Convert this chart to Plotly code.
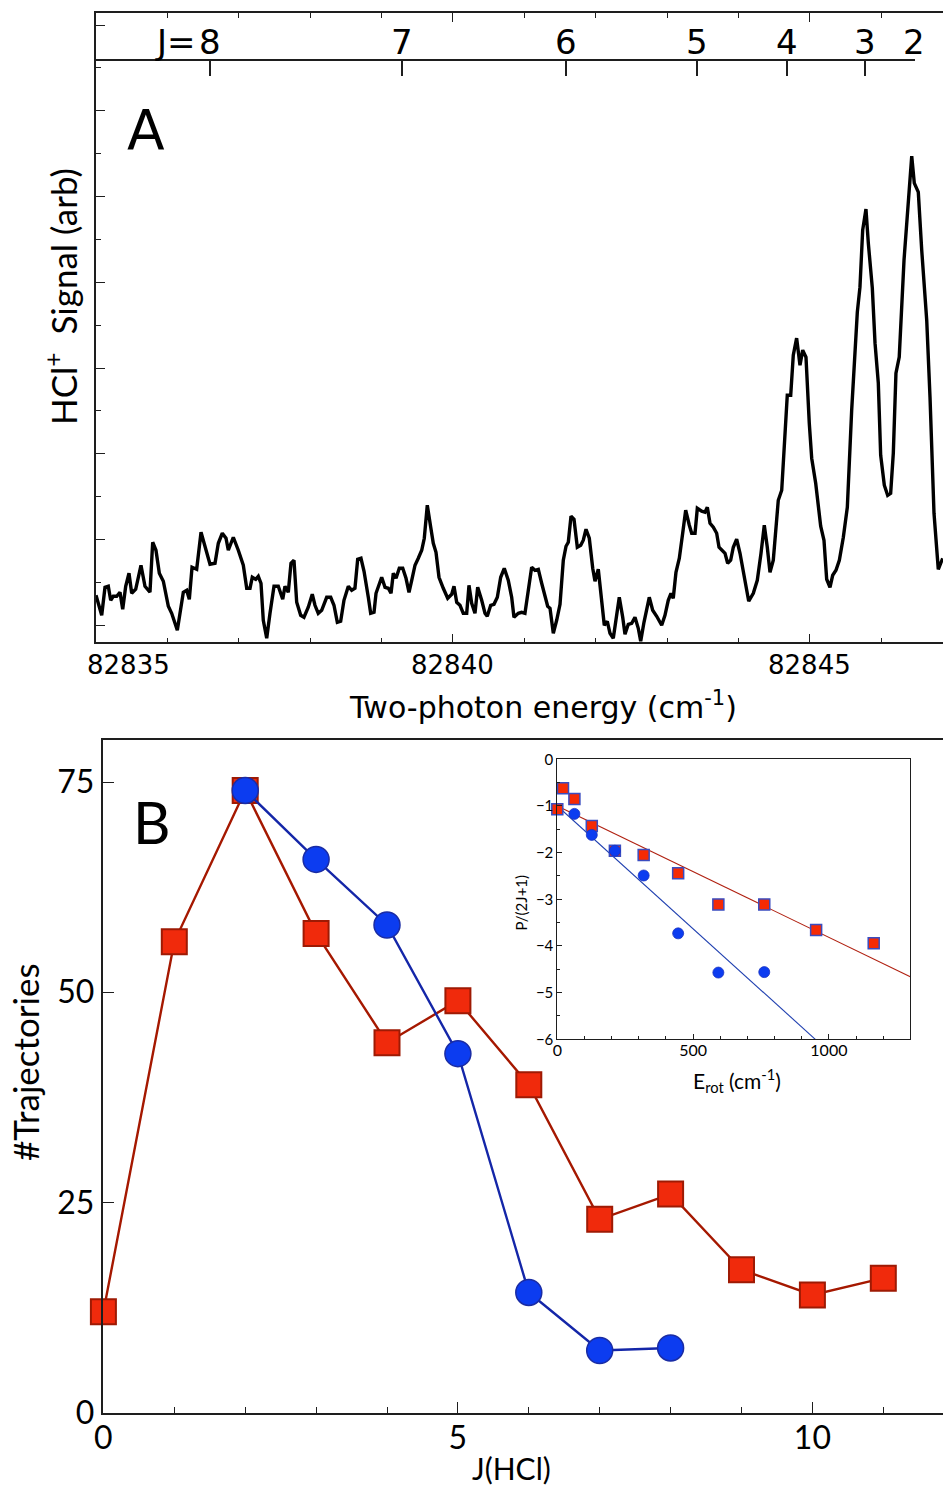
import plotly.graph_objects as go

# ---------------- Panel A: HCl+ (2+1) REMPI spectrum ----------------
energy = [
    82835.000, 82835.080, 82835.126, 82835.172, 82835.206, 82835.242, 82835.290, 82835.336, 82835.374, 82835.416,
    82835.462, 82835.500, 82835.556, 82835.630, 82835.686, 82835.756, 82835.794, 82835.840, 82835.887, 82835.943,
    82836.013, 82836.060, 82836.139, 82836.223, 82836.270, 82836.307, 82836.345, 82836.410, 82836.471, 82836.527,
    82836.597, 82836.667, 82836.713, 82836.769, 82836.821, 82836.853, 82836.923, 82836.993, 82837.063, 82837.111,
    82837.157, 82837.189, 82837.237, 82837.273, 82837.311, 82837.343, 82837.391, 82837.437, 82837.493, 82837.553,
    82837.615, 82837.647, 82837.693, 82837.731, 82837.773, 82837.811, 82837.867, 82837.913, 82837.973, 82838.029,
    82838.067, 82838.113, 82838.161, 82838.231, 82838.287, 82838.333, 82838.380, 82838.427, 82838.473, 82838.534,
    82838.581, 82838.627, 82838.665, 82838.711, 82838.754, 82838.814, 82838.847, 82838.894, 82838.922, 82839.001,
    82839.048, 82839.094, 82839.132, 82839.164, 82839.202, 82839.248, 82839.296, 82839.342, 82839.384, 82839.422,
    82839.468, 82839.514, 82839.562, 82839.598, 82839.640, 82839.688, 82839.724, 82839.762, 82839.804, 82839.864,
    82839.926, 82839.982, 82840.014, 82840.052, 82840.098, 82840.144, 82840.192, 82840.224, 82840.262, 82840.308,
    82840.346, 82840.402, 82840.448, 82840.480, 82840.528, 82840.574, 82840.621, 82840.668, 82840.718, 82840.774,
    82840.822, 82840.854, 82840.915, 82840.962, 82841.008, 82841.055, 82841.102, 82841.148, 82841.195, 82841.242,
    82841.289, 82841.326, 82841.359, 82841.405, 82841.452, 82841.499, 82841.545, 82841.583, 82841.615, 82841.653,
    82841.695, 82841.741, 82841.789, 82841.825, 82841.863, 82841.909, 82841.957, 82841.989, 82842.035, 82842.083,
    82842.119, 82842.161, 82842.199, 82842.245, 82842.283, 82842.329, 82842.377, 82842.409, 82842.455, 82842.503,
    82842.549, 82842.595, 82842.629, 82842.675, 82842.749, 82842.797, 82842.853, 82842.923, 82842.969, 82843.015,
    82843.053, 82843.085, 82843.123, 82843.170, 82843.217, 82843.259, 82843.310, 82843.343, 82843.390, 82843.422,
    82843.483, 82843.529, 82843.562, 82843.600, 82843.646, 82843.693, 82843.726, 82843.772, 82843.810, 82843.847,
    82843.889, 82843.926, 82843.973, 82844.020, 82844.076, 82844.142, 82844.206, 82844.262, 82844.314, 82844.360,
    82844.402, 82844.440, 82844.486, 82844.524, 82844.556, 82844.604, 82844.650, 82844.682, 82844.730, 82844.766,
    82844.813, 82844.860, 82844.898, 82844.944, 82844.990, 82845.024, 82845.080, 82845.150, 82845.196, 82845.234,
    82845.280, 82845.318, 82845.364, 82845.411, 82845.467, 82845.523, 82845.584, 82845.663, 82845.700, 82845.738,
    82845.784, 82845.817, 82845.873, 82845.911, 82845.957, 82845.990, 82846.041, 82846.088, 82846.130, 82846.167,
    82846.204, 82846.250, 82846.317, 82846.377, 82846.425, 82846.461, 82846.517, 82846.565, 82846.635, 82846.681,
    82846.727, 82846.737, 82846.797, 82846.859,
]
signal = [
    4.7, 2.7, 5.5, 5.6, 4.2, 4.6, 4.6, 5.0, 3.3, 5.6,
    6.9, 4.9, 5.3, 7.7, 5.6, 5.0, 10.0, 9.2, 6.9, 6.1,
    3.6, 2.9, 1.2, 5.0, 5.2, 4.3, 7.5, 7.3, 11.0, 9.6,
    7.8, 7.9, 9.9, 10.9, 10.4, 9.2, 10.5, 9.2, 7.7, 5.4,
    5.4, 6.5, 6.3, 6.6, 5.9, 2.2, 0.4, 2.9, 5.6, 5.6,
    4.3, 5.6, 5.0, 7.9, 8.2, 4.0, 2.7, 2.5, 3.5, 4.8,
    3.7, 2.9, 3.2, 4.5, 4.5, 3.7, 2.0, 2.1, 4.2, 5.6,
    5.2, 5.4, 8.3, 8.4, 7.1, 4.5, 2.9, 3.0, 4.9, 6.5,
    5.5, 5.4, 4.9, 6.9, 6.4, 7.4, 7.4, 6.4, 5.0, 6.2,
    7.7, 8.4, 9.2, 10.4, 13.7, 11.5, 9.9, 9.0, 6.5, 5.4,
    4.4, 4.8, 5.6, 4.0, 3.7, 2.9, 2.9, 5.7, 3.9, 2.9,
    5.5, 4.2, 2.9, 2.6, 3.7, 3.8, 4.5, 6.5, 7.4, 6.2,
    4.5, 2.5, 2.9, 3.0, 2.9, 5.2, 7.5, 7.2, 7.3, 5.9,
    4.4, 3.6, 3.4, 0.9, 2.2, 3.8, 8.2, 9.6, 10.0, 12.6,
    12.3, 9.5, 9.7, 10.2, 11.3, 10.4, 7.4, 6.1, 7.3, 4.2,
    1.7, 2.1, 0.9, 0.4, 2.5, 4.5, 2.5, 0.8, 1.8, 1.9,
    2.5, 1.4, 0.1, 2.0, 4.5, 3.2, 2.6, 1.7, 2.7, 4.2,
    4.9, 4.4, 7.0, 8.4, 10.9, 13.2, 11.7, 10.9, 10.9, 13.4,
    13.1, 13.0, 13.5, 11.9, 11.5, 10.9, 9.5, 9.1, 8.9, 7.9,
    8.2, 9.5, 10.3, 8.9, 6.5, 4.1, 4.9, 6.2, 8.9, 11.7,
    9.5, 7.0, 8.2, 11.5, 14.2, 15.2, 21.7, 24.7, 24.7, 28.7,
    30.4, 27.7, 29.2, 28.5, 21.9, 18.4, 15.9, 11.6, 10.2, 6.3,
    5.5, 6.7, 7.2, 8.2, 10.5, 13.5, 23.2, 33.0, 35.5, 41.2,
    43.3, 39.9, 35.4, 29.9, 25.9, 18.7, 15.7, 14.7, 14.9, 18.9,
    26.9, 28.5, 38.2, 44.5, 48.6, 45.9, 45.0, 39.2, 32.2, 24.5,
    15.4, 12.9, 7.3, 8.4,
]

# rotational line positions of the HCl+ ladder (top scale)
j_labels = ["8", "7", "6", "5", "4", "3", "2"]
j_energy = [82836.592, 82839.283, 82841.583, 82843.417, 82844.678, 82845.770, 82846.457]

energy_tick_vals = [82835, 82840, 82845]
energy_tick_text = ["82835", "82840", "82845"]

# ---------------- Panel B: J(HCl) trajectory distributions ----------------
j_red = [0, 1, 2, 3, 4, 5, 6, 7, 8, 9, 10, 11]
traj_red = [12, 56, 74, 57, 44, 49, 39, 23, 26, 17, 14, 16]
j_blue = [2, 3, 4, 5, 6, 7, 8]
traj_blue = [74, 65.8, 58, 42.7, 14.3, 7.4, 7.7]

# inset: Boltzmann plot
erot_red = [0, 21, 63, 127, 212, 318, 445, 593, 762, 953, 1165]
lnp_red = [-1.07, -0.62, -0.85, -1.43, -1.96, -2.05, -2.44, -3.11, -3.11, -3.66, -3.94]
erot_blue = [63, 127, 212, 318, 445, 593, 762]
lnp_blue = [-1.17, -1.62, -1.96, -2.49, -3.73, -4.57, -4.56]
fit_red_x = [0, 1300]
fit_red_y = [-1.0, -4.66]
fit_blue_x = [0, 950]
fit_blue_y = [-1.0, -6.0]

# ---------------- styling ----------------
W, H = 943, 1489
FONT_A = "DejaVu Sans"
FONT_B = "Lato, 'Open Sans', sans-serif"
AXC = "#1e1e1e"
RED_FILL, RED_EDGE = "#f02a0c", "#9e1a04"
BLUE_FILL, BLUE_EDGE = "#0c3cf0", "#1a2ca4"


def px(x):
    return x / W


def py(y):
    return 1 - y / H


fig = go.Figure()

# spectrum
fig.add_trace(go.Scatter(x=energy, y=signal, mode="lines",
                         line=dict(color="black", width=3.4),
                         xaxis="x", yaxis="y", hoverinfo="skip"))
# carrier for the J scale axis
fig.add_trace(go.Scatter(x=j_energy, y=[None] * len(j_energy), mode="markers",
                         xaxis="x2", yaxis="y", hoverinfo="skip"))

# trajectory counts
fig.add_trace(go.Scatter(x=j_red, y=traj_red, mode="lines+markers", cliponaxis=False,
                         line=dict(color="#a51800", width=2.4),
                         marker=dict(symbol="square", size=25, color=RED_FILL,
                                     line=dict(color=RED_EDGE, width=2)),
                         xaxis="x3", yaxis="y3", hoverinfo="skip"))
fig.add_trace(go.Scatter(x=j_blue, y=traj_blue, mode="lines+markers", cliponaxis=False,
                         line=dict(color="#1426a8", width=2.4),
                         marker=dict(symbol="circle", size=26, color=BLUE_FILL,
                                     line=dict(color=BLUE_EDGE, width=1.5)),
                         xaxis="x3", yaxis="y3", hoverinfo="skip"))

# inset fits and points
fig.add_trace(go.Scatter(x=fit_red_x, y=fit_red_y, mode="lines",
                         line=dict(color="#b02010", width=1.1),
                         xaxis="x4", yaxis="y4", hoverinfo="skip"))
fig.add_trace(go.Scatter(x=fit_blue_x, y=fit_blue_y, mode="lines",
                         line=dict(color="#2040b0", width=1.1),
                         xaxis="x4", yaxis="y4", hoverinfo="skip"))
fig.add_trace(go.Scatter(x=erot_red, y=lnp_red, mode="markers", cliponaxis=False,
                         marker=dict(symbol="square", size=11, color="#f52a04",
                                     line=dict(color="#3a4cc0", width=1.5)),
                         xaxis="x4", yaxis="y4", hoverinfo="skip"))
fig.add_trace(go.Scatter(x=erot_blue, y=lnp_blue, mode="markers", cliponaxis=False,
                         marker=dict(symbol="circle", size=11, color="#0c3cf0",
                                     line=dict(color="#1a34c0", width=0.8)),
                         xaxis="x4", yaxis="y4", hoverinfo="skip"))

common = dict(showgrid=False, zeroline=False, showline=True, linecolor=AXC,
              tickcolor=AXC, ticks="inside", automargin=False)

fig.update_layout(
    template="none",
    width=W, height=H, margin=dict(l=0, r=0, t=0, b=0, pad=0),
    paper_bgcolor="white", plot_bgcolor="rgba(0,0,0,0)", showlegend=False,
    xaxis=dict(**common, domain=[px(96), 1], range=[82835, 82846.863], anchor="y",
               linewidth=1.5, mirror="ticks", tick0=82835, dtick=5, ticklen=9,
               tickwidth=1.3, showticklabels=False,
               minor=dict(ticks="inside", dtick=1, ticklen=5, tickcolor=AXC, tickwidth=1.1)),
    yaxis=dict(**common, domain=[py(642.3), py(13)], range=[0, 62.9], anchor="x",
               linewidth=1.5, tick0=1.7, dtick=8.57, ticklen=9, tickwidth=1.3,
               showticklabels=False,
               minor=dict(ticks="inside", tick0=1.7, dtick=4.285, ticklen=5,
                          tickcolor=AXC, tickwidth=1.1)),
    xaxis2=dict(**common, domain=[px(96), px(915)], range=[82835, 82846.4706],
                anchor="free", position=py(60), side="top", linewidth=1.6,
                tickvals=j_energy, ticklen=15, tickwidth=1.5, showticklabels=False),
    xaxis3=dict(**common, domain=[px(103.4), 1], range=[0, 11.842], anchor="y3",
                linewidth=1.5, mirror=True, tick0=0, dtick=5, ticklen=11, tickwidth=1.3,
                tickfont=dict(family=FONT_B, size=32, color="black"), ticklabelstandoff=-4,
                minor=dict(ticks="inside", dtick=1, ticklen=6, tickcolor=AXC, tickwidth=1.1)),
    yaxis3=dict(**common, domain=[py(1412.7), py(740)], range=[0, 80], anchor="x3",
                linewidth=1.5, tickvals=[0, 25, 50, 75], ticklen=11, tickwidth=1.3,
                tickfont=dict(family=FONT_B, size=32, color="black"), ticklabelstandoff=1),
    xaxis4=dict(**common, domain=[px(557.3), px(910)], range=[0, 1298.6], anchor="y4",
                linewidth=1, mirror=True, tick0=0, dtick=500, ticklen=5, tickwidth=1,
                tickfont=dict(family=FONT_B, size=16, color="black"), ticklabelstandoff=-4,
                minor=dict(ticks="inside", dtick=100, ticklen=3, tickcolor=AXC, tickwidth=1)),
    yaxis4=dict(**common, domain=[py(1039.3), py(759.3)], range=[-6, 0], anchor="x4",
                linewidth=1, mirror=True, tick0=0, dtick=1, ticklen=5, tickwidth=1,
                tickfont=dict(family=FONT_B, size=15, color="black"), ticklabelstandoff=0,
                minor=dict(ticks="inside", dtick=0.5, ticklen=3, tickcolor=AXC, tickwidth=1)),
)


def label(x, y, text, size, family=FONT_B, angle=0, xref="paper", xanchor="center",
          xshift=0):
    return dict(x=x, y=y, xref=xref, yref="paper", text=text, showarrow=False,
                xanchor=xanchor, yanchor="middle", xshift=xshift, textangle=angle,
                font=dict(family=family, size=size, color="black"))


ann = []
# J scale labels
for lab, e in zip(j_labels, j_energy):
    ann.append(label(e, py(42), lab, 34, FONT_A, xref="x2"))
ann.append(label(j_energy[0], py(42), "J=", 34, FONT_A, xref="x2", xanchor="right",
                 xshift=-12))
# energy tick labels
for i, (v, t) in enumerate(zip(energy_tick_vals, energy_tick_text)):
    ann.append(label(v, py(665), t, 26, FONT_A, xref="x",
                     xanchor="left" if i == 0 else "center",
                     xshift=-11 if i == 0 else 0))
# axis titles and panel letters
ann += [
    label(px(543), py(705), "Two-photon energy (cm<sup>-1</sup>)", 30, FONT_A),
    label(px(61), py(297), "HCl<sup>+</sup>  Signal (arb)", 35, angle=-90),
    label(px(146), py(130), "A", 55, FONT_A),
    label(px(152), py(822), "B", 58),
    label(px(25), py(1062), "#Trajectories", 35, angle=-90),
    label(px(511), py(1468), "J(HCl)", 30),
    label(px(520.5), py(903), "P/(2J+1)", 15, angle=-90),
    label(px(737), py(1080), "E<sub>rot</sub> (cm<sup>-1</sup>)", 21),
]
fig.update_layout(annotations=ann)

fig.write_html("out.html")
